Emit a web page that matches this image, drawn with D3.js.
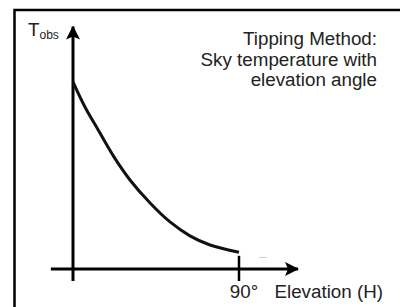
<!DOCTYPE html>
<html>
<head>
<meta charset="utf-8">
<script src="https://cdn.jsdelivr.net/npm/d3@7"></script>
<style>
  body { margin: 0; background: #fff; }
  svg { display: block; font-family: "Liberation Sans", Arial, sans-serif; }
</style>
</head>
<body>
<div id="chart"></div>
<script>
// values (elevation in degrees, sky temperature in arbitrary units)
const elevation = [0, 6.5, 13.6, 22.2, 30.9, 41.8, 52.6, 63.4, 74.3, 90]
const tObs = [78, 67.5, 58, 46.7, 37.1, 27.5, 19.6, 13.8, 10, 7]
const titleLines = ['Tipping Method:', 'Sky temperature with', 'elevation angle']
const tickLabel = '90°'
const xLabel = 'Elevation (H)'

const width = 400
const height = 307

const svg = d3.select('#chart').append('svg')
  .attr('width', width)
  .attr('height', height)

// outer frame, runs off the right and bottom edges
svg.append('rect')
  .attr('x', 14.5)
  .attr('y', 10)
  .attr('width', 420)
  .attr('height', 320)
  .attr('fill', 'none')
  .attr('stroke', '#000')
  .attr('stroke-width', 2.5)

const x = d3.scaleLinear().domain([0, 90]).range([73, 239])
const y = d3.scaleLinear().domain([0, 100]).range([269, 29])

// arrow head
const defs = svg.append('defs')
defs.append('marker')
  .attr('id', 'arrow')
  .attr('viewBox', '0 0 14 14')
  .attr('refX', 13)
  .attr('refY', 7)
  .attr('markerWidth', 14)
  .attr('markerHeight', 14)
  .attr('markerUnits', 'userSpaceOnUse')
  .attr('orient', 'auto')
  .append('path')
  .attr('d', 'M0,0 L14,7 L0,14 L3,7 Z')
  .attr('fill', '#000')

const axes = svg.append('g').attr('stroke', '#000').attr('stroke-width', 3)

// x axis
axes.append('line')
  .attr('x1', x(-12)).attr('x2', x(122))
  .attr('y1', y(0)).attr('y2', y(0))
  .attr('marker-end', 'url(#arrow)')

// y axis
axes.append('line')
  .attr('x1', x(0)).attr('x2', x(0))
  .attr('y1', y(-5)).attr('y2', y(101))
  .attr('marker-end', 'url(#arrow)')

// tick at 90 degrees
axes.append('line')
  .attr('x1', x(90)).attr('x2', x(90))
  .attr('y1', y(5.5)).attr('y2', y(-5))
  .attr('stroke-width', 2.5)

// the curve
const line = d3.line()
  .x((d, i) => x(elevation[i]))
  .y(d => y(d))
  .curve(d3.curveCatmullRom)

svg.append('path')
  .datum(tObs)
  .attr('d', line)
  .attr('fill', 'none')
  .attr('stroke', '#111')
  .attr('stroke-width', 3)

// small grey dash next to the curve end
svg.append('line')
  .attr('x1', x(101)).attr('x2', x(105))
  .attr('y1', y(4.8)).attr('y2', y(4.8))
  .attr('stroke', '#ccc')
  .attr('stroke-width', 1)

// texts
const title = svg.append('text')
  .attr('text-anchor', 'end')
  .attr('font-size', 18.8)
  .attr('fill', '#222')
titleLines.forEach((t, i) => {
  title.append('tspan').attr('x', 377).attr('y', 45 + i * 20.5).text(t)
})

svg.append('text')
  .attr('x', 244)
  .attr('y', 298)
  .attr('text-anchor', 'middle')
  .attr('font-size', 18.8)
  .attr('fill', '#222')
  .text(tickLabel)

svg.append('text')
  .attr('x', 383)
  .attr('y', 298)
  .attr('text-anchor', 'end')
  .attr('font-size', 18.8)
  .attr('fill', '#222')
  .text(xLabel)

const yLab = svg.append('text')
  .attr('x', 28)
  .attr('y', 36)
  .attr('font-size', 18.8)
  .attr('fill', '#222')
yLab.append('tspan').text('T')
yLab.append('tspan').attr('font-size', 12).attr('dy', 3).text('obs')
</script>
</body>
</html>
